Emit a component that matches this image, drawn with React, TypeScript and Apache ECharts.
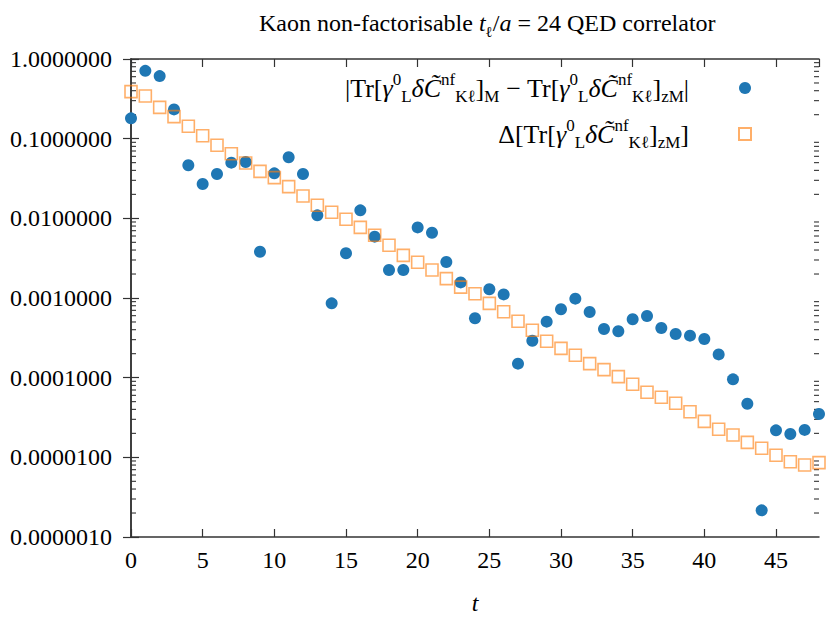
import React, { useEffect, useRef } from "react";
import * as echarts from "echarts";

const tValues: number[] = Array.from({ length: 49 }, (_, i) => i);

const diffValues: number[] = [
  0.18, 0.71, 0.61, 0.233, 0.0463, 0.027, 0.036, 0.05, 0.051, 0.00381,
  0.0367, 0.0584, 0.036, 0.0109, 0.000857, 0.00364, 0.0126, 0.00589, 0.00225, 0.00225,
  0.0077, 0.0066, 0.00283, 0.00157, 0.000556, 0.00129, 0.00111, 0.00015, 0.000291, 0.000505,
  0.000722, 0.000981, 0.000667, 0.000408, 0.000382, 0.000541, 0.000594, 0.00042, 0.000353, 0.000337,
  0.000306, 0.000196, 0.0000953, 0.0000471, 0.00000216, 0.0000218, 0.0000196, 0.0000221, 0.000035,
];

const deltaValues: number[] = [
  0.389, 0.343, 0.247, 0.189, 0.143, 0.109, 0.0826, 0.0648, 0.0495, 0.0389,
  0.0324, 0.025, 0.0191, 0.0146, 0.0119, 0.00973, 0.00771, 0.00612, 0.00459, 0.00343,
  0.00281, 0.00225, 0.00175, 0.00137, 0.00113, 0.000857, 0.000673, 0.00051, 0.000393, 0.000286,
  0.000233, 0.000191, 0.00015, 0.000126, 0.000103, 0.0000826, 0.0000655, 0.0000567, 0.0000477, 0.0000374,
  0.0000283, 0.0000225, 0.0000191, 0.0000154, 0.000013, 0.0000106, 0.00000881, 0.00000801, 0.00000857,
];

const decades: number[] = [1e-6, 1e-5, 1e-4, 1e-3, 1e-2, 1e-1];
const minorMultipliers: number[] = [2, 3, 4, 5, 6, 7, 8, 9];

const xTickLabels: number[] = [0, 5, 10, 15, 20, 25, 30, 35, 40, 45];

const BLUE = "#1f77b4";
const ORANGE = "rgba(255,127,14,0.78)";
const AXIS = "#333333";
const FONT = "Liberation Serif";

const legendLabels: Record<string, string> = {
  diff:
    "{n||Tr[}{i|γ}{sup|0}{sub|L}{i|δC̃}{sup|nf}{sub|Kℓ}{n|]}{sub|M}{n| − Tr[}{i|γ}{sup|0}{sub|L}{i|δC̃}{sup|nf}{sub|Kℓ}{n|]}{sub|zM}{n||}",
  delta:
    "{n|Δ[Tr[}{i|γ}{sup|0}{sub|L}{i|δC̃}{sup|nf}{sub|Kℓ}{n|]}{sub|zM}{n|]}",
};

export default function App() {
  const ref = useRef<HTMLDivElement>(null);

  useEffect(() => {
    if (!ref.current) return;
    const chart = echarts.init(ref.current, null, { renderer: "svg" });

    const minorTicks: number[] = [];
    decades.forEach((d) => minorMultipliers.forEach((m) => minorTicks.push(d * m)));

    const richMain = {
      n: { fontFamily: FONT, fontSize: 26, fontWeight: "normal", color: "#000", lineHeight: 34 },
      i: { fontFamily: FONT, fontSize: 26, fontWeight: "normal", fontStyle: "italic", color: "#000", lineHeight: 34 },
      sup: { fontFamily: FONT, fontSize: 17, fontWeight: "normal", color: "#000", lineHeight: 16, verticalAlign: "top" },
      sub: { fontFamily: FONT, fontSize: 17, fontWeight: "normal", color: "#000", lineHeight: 16, verticalAlign: "bottom" },
    };

    const option: any = {
      animation: false,
      backgroundColor: "#ffffff",
      title: {
        text: "{n|Kaon non-factorisable }{i|t}{sub|ℓ}{n|/}{i|a}{n| = 24 QED correlator}",
        left: 254,
        top: 2,
        textStyle: {
          fontWeight: "normal",
          rich: {
            n: { fontFamily: FONT, fontSize: 24, fontWeight: "normal", color: "#000", lineHeight: 32 },
            i: { fontFamily: FONT, fontSize: 24, fontWeight: "normal", fontStyle: "italic", color: "#000", lineHeight: 32 },
            sub: { fontFamily: FONT, fontSize: 15, fontWeight: "normal", color: "#000", lineHeight: 15, verticalAlign: "bottom" },
          },
        },
      },
      legend: {
        data: ["diff", "delta"],
        orient: "vertical",
        align: "right",
        right: 73,
        top: 66,
        itemWidth: 12,
        itemHeight: 12,
        itemGap: 12,
        formatter: (name: string) => legendLabels[name] || name,
        textStyle: { rich: richMain, padding: [0, 45, 0, 0] },
      },
      grid: { left: 131, right: 11, top: 59, bottom: 83, containLabel: false, outerBoundsMode: "none" },
      xAxis: [
        {
          type: "value",
          min: 0,
          max: 48,
          interval: 5,
          position: "bottom",
          name: "t",
          nameLocation: "middle",
          nameGap: 54,
          nameTextStyle: { fontFamily: FONT, fontSize: 24, fontStyle: "italic", color: "#000", lineHeight: 24 },
          axisLine: { show: true, lineStyle: { color: AXIS, width: 1.5 } },
          axisTick: { show: true, inside: true, length: 8, lineStyle: { color: AXIS, width: 1.2 } },
          axisLabel: {
            fontFamily: FONT,
            fontSize: 24,
            color: "#000",
            margin: 11,
            showMaxLabel: false,
            formatter: (v: number) => (xTickLabels.includes(v) ? String(v) : ""),
          },
          splitLine: { show: false },
        },
        {
          type: "value",
          min: 0,
          max: 48,
          interval: 5,
          position: "top",
          axisLine: { show: true, lineStyle: { color: AXIS, width: 1.5 } },
          axisTick: { show: true, inside: true, length: 8, lineStyle: { color: AXIS, width: 1.2 } },
          axisLabel: { show: false },
          splitLine: { show: false },
        },
      ],
      yAxis: [
        {
          type: "log",
          logBase: 10,
          min: 1e-6,
          max: 1,
          position: "left",
          axisLine: { show: true, lineStyle: { color: AXIS, width: 1.5 } },
          axisTick: { show: true, inside: true, length: 8, lineStyle: { color: AXIS, width: 1.2 } },
          axisLabel: {
            fontFamily: FONT,
            fontSize: 24,
            color: "#000",
            margin: 19,
            formatter: (v: number) => v.toFixed(7),
          },
          splitLine: { show: false },
        },
        {
          type: "log",
          logBase: 10,
          min: 1e-6,
          max: 1,
          position: "right",
          axisLine: { show: true, lineStyle: { color: AXIS, width: 1.5 } },
          axisTick: { show: true, inside: true, length: 8, lineStyle: { color: AXIS, width: 1.2 } },
          axisLabel: { show: false },
          splitLine: { show: false },
        },
      ],
      series: [
        {
          name: "minor",
          type: "custom",
          xAxisIndex: 0,
          yAxisIndex: 0,
          silent: true,
          data: minorTicks.map((v) => [0, v]),
          renderItem: (params: any, api: any) => {
            const v = api.value(1);
            const pl = api.coord([0, v]);
            const pr = api.coord([48, v]);
            const style = { stroke: AXIS, lineWidth: 1.1 };
            return {
              type: "group",
              children: [
                { type: "line", shape: { x1: pl[0], y1: pl[1], x2: pl[0] + 5, y2: pl[1] }, style },
                { type: "line", shape: { x1: pr[0], y1: pr[1], x2: pr[0] - 5, y2: pr[1] }, style },
              ],
            };
          },
          z: 1,
        },
        {
          name: "diff",
          type: "scatter",
          xAxisIndex: 0,
          yAxisIndex: 0,
          symbol: "circle",
          symbolSize: 12,
          itemStyle: { color: BLUE, opacity: 1 },
          data: tValues.map((t, i) => [t, diffValues[i]]),
          z: 2,
        },
        {
          name: "delta",
          type: "scatter",
          xAxisIndex: 0,
          yAxisIndex: 0,
          symbol: "rect",
          symbolSize: 12,
          itemStyle: { color: "rgba(255,255,255,0)", borderColor: ORANGE, borderWidth: 1.6 },
          data: tValues.map((t, i) => [t, deltaValues[i]]),
          z: 3,
        },
      ],
    };

    chart.setOption(option);
    return () => chart.dispose();
  }, []);

  return (
    <div
      ref={ref}
      style={{ position: "absolute", left: 0, top: 0, width: 830, height: 620 }}
    />
  );
}
